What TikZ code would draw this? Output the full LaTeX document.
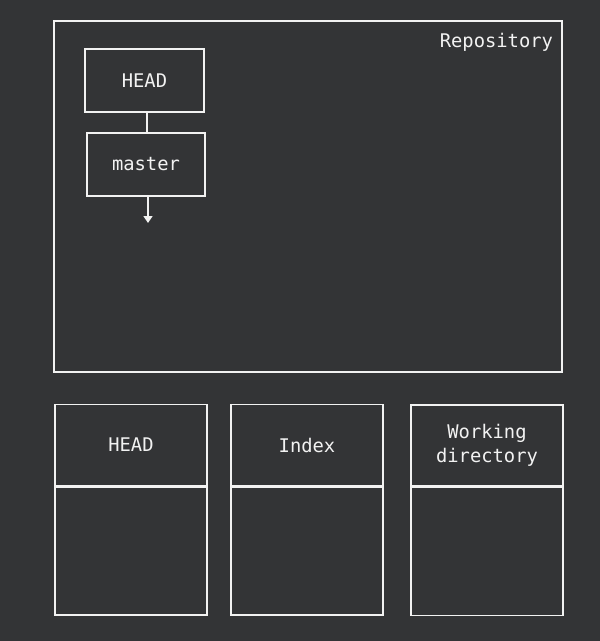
\documentclass[tikz,border=0pt]{standalone}
\usepackage{fontspec}
\setmonofont{DejaVu Sans Mono}
\usetikzlibrary{positioning,arrows.meta}
\definecolor{bgdark}{HTML}{333436}
\definecolor{linewhite}{HTML}{F2F2F2}

\begin{document}
\begin{tikzpicture}[x=1pt,y=1pt,
    box/.style={draw=linewhite,line width=1.6pt,text=linewhite,inner sep=0pt,
        align=center,font=\ttfamily\fontsize{18.8}{24}\selectfont},
    titlebox/.style={box,minimum width=152pt,minimum height=81pt},
    bodybox/.style={box,minimum width=152pt,minimum height=128pt}]
    \fill[bgdark] (0,0) rectangle (600,-641);
    \useasboundingbox (0,0) rectangle (600,-641);
    % repository
    \node[box,minimum width=508pt,minimum height=351pt] (repo) at (308,-196.5) {};
    \node[box,draw=none,anchor=north east] (repolabel)
        at ([xshift=-9pt,yshift=-12pt]repo.north east) {Repository};
    \node[box,minimum width=119pt,minimum height=63pt] (head) at (144.5,-80.5) {HEAD};
    \node[box,minimum width=118pt,minimum height=63pt] (master) at (146,-164.5) {master};
    \coordinate (tip) at (148,-223);
    \draw[linewhite,line width=1.6pt] (head.south -| 147,0) -- (master.north -| 147,0);
    \draw[linewhite,line width=1.6pt,-{Triangle[length=7pt,width=9pt]}]
        (master.south -| tip) -- (tip);
    % the three trees
    \node[titlebox] (headtitle) at (131,-445) {HEAD};
    \node[bodybox,below=0pt of headtitle] (headbody) {};
    \node[titlebox] (indextitle) at (307,-445) {Index};
    \node[bodybox,below=0pt of indextitle] (indexbody) {};
    \node[titlebox] (worktitle) at (487,-445.5) {Working\\directory};
    \node[bodybox,below=0pt of worktitle] (workbody) {};
\end{tikzpicture}
\end{document}
